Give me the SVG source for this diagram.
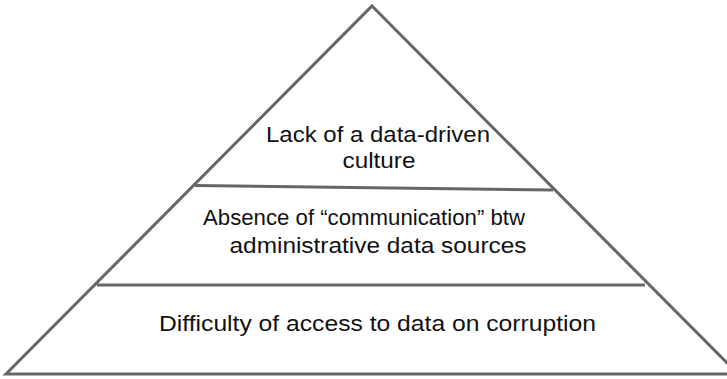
<svg xmlns="http://www.w3.org/2000/svg" width="727" height="379" viewBox="0 0 727 379">
<style>
.edge{fill:none;stroke:#666;stroke-width:3;stroke-linejoin:miter}
.lbl{font-family:"Liberation Sans",Arial,sans-serif;font-size:22px;fill:#111;text-anchor:middle}
</style>
<rect width="727" height="379" fill="#fff"/>
<g id="pyramid">
<path class="edge" d="M372,6 L738,374 L6,374 Z"/>
</g>
<g id="connectors">
<line class="edge" x1="195" y1="185.5" x2="553" y2="190"/>
<line class="edge" x1="97" y1="285" x2="645" y2="285"/>
</g>
<g id="tier-top">
<text class="lbl" x="378" y="142" textLength="224" lengthAdjust="spacingAndGlyphs">Lack of a data-driven</text>
<text class="lbl" x="379" y="168" textLength="73" lengthAdjust="spacingAndGlyphs">culture</text>
</g>
<g id="tier-middle">
<text class="lbl" x="364" y="225" textLength="322" lengthAdjust="spacingAndGlyphs">Absence of “communication” btw</text>
<text class="lbl" x="378" y="253" textLength="297" lengthAdjust="spacingAndGlyphs">administrative data sources</text>
</g>
<g id="tier-bottom">
<text class="lbl" x="377.5" y="331" textLength="437" lengthAdjust="spacingAndGlyphs">Difficulty of access to data on corruption</text>
</g>
</svg>
